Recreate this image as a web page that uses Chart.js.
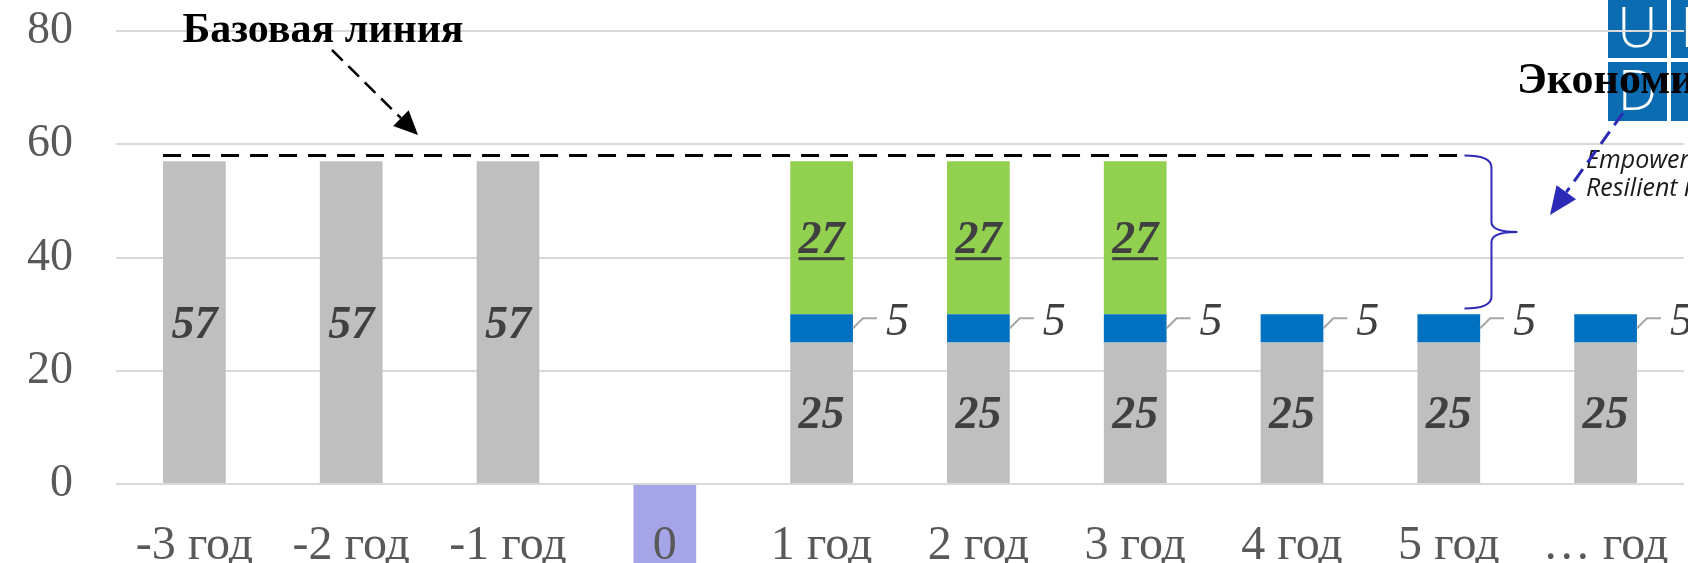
<!DOCTYPE html>
<html>
<head>
<meta charset="utf-8">
<script src="https://cdn.jsdelivr.net/npm/chart.js@4.4.1/dist/chart.umd.min.js"></script>
<style>
  html, body { margin: 0; padding: 0; background: #fff; overflow: hidden; }
  #chart { display: block; background: #fff; }
</style>
</head>
<body>
<canvas id="chart" width="1688" height="563"></canvas>
<script>
const CATEGORIES = ['-3 год', '-2 год', '-1 год', '0', '1 год', '2 год', '3 год', '4 год', '5 год', '… год'];
const BASE_VALUES = [57, 57, 57, 0, 25, 25, 25, 25, 25, 25];
const EXTRA_VALUES = [0, 0, 0, 0, 5, 5, 5, 5, 5, 5];
const SAVING_VALUES = [0, 0, 0, 0, 27, 27, 27, 0, 0, 0];
const Y_TICKS = [0, 20, 40, 60, 80];
const BASELINE_VALUE = 58;
const BRACE_BOTTOM = 31;
const HIGHLIGHT_INDEX = 3;

const SERIF = '"Liberation Serif", "Times New Roman", serif';
const SANS = '"Open Sans", "Noto Sans", sans-serif';

function arrow(ctx, x1, y1, x2, y2, color, width, dash, head, half) {
    const ang = Math.atan2(y2 - y1, x2 - x1);
    const bx = x2 - head * Math.cos(ang);
    const by = y2 - head * Math.sin(ang);
    ctx.save();
    ctx.strokeStyle = color;
    ctx.fillStyle = color;
    ctx.lineWidth = width;
    ctx.setLineDash(dash);
    ctx.beginPath();
    ctx.moveTo(x1, y1);
    ctx.lineTo(bx, by);
    ctx.stroke();
    ctx.setLineDash([]);
    ctx.beginPath();
    ctx.moveTo(x2, y2);
    ctx.lineTo(bx + half * Math.sin(ang), by - half * Math.cos(ang));
    ctx.lineTo(bx - half * Math.sin(ang), by + half * Math.cos(ang));
    ctx.closePath();
    ctx.fill();
    ctx.restore();
}

// purple box under the "0" label + logo (behind the grid)
const backdrop = {
    id: 'backdrop',
    beforeDraw(chart) {
        const { ctx, scales: { x, y } } = chart;
        const bar = chart.getDatasetMeta(0).data[HIGHLIGHT_INDEX];
        const w = bar.width;
        const cx = x.getPixelForValue(HIGHLIGHT_INDEX);
        ctx.save();
        ctx.fillStyle = '#a5a5e8';
        ctx.fillRect(cx - w / 2, y.getPixelForValue(0) + 1, w, chart.height);

        // logo squares
        ctx.fillStyle = '#0b6cb2';
        const sq = 59, gap = 4, lx = 1608, ly = -1;
        for (let r = 0; r < 2; r++) {
            for (let c = 0; c < 2; c++) {
                ctx.fillRect(lx + c * (sq + gap), ly + r * (sq + gap), sq, sq);
            }
        }
        ctx.fillStyle = '#fff';
        ctx.font = '300 56px ' + SANS;
        ctx.textAlign = 'center';
        ctx.textBaseline = 'alphabetic';
        const letters = [['U', 0, 0], ['N', 1, 0], ['D', 0, 1], ['P', 1, 1]];
        letters.forEach(([t, c, r]) => {
            ctx.fillText(t, lx + c * (sq + gap) + sq / 2, ly + r * (sq + gap) + 48);
        });
        ctx.restore();
    }
};

const labels = {
    id: 'labels',
    afterDatasetsDraw(chart) {
        const { ctx, scales: { x, y } } = chart;
        ctx.save();
        chart.data.datasets.forEach((ds, di) => {
            const meta = chart.getDatasetMeta(di);
            meta.data.forEach((bar, i) => {
                const v = ds.data[i];
                if (!v) return;
                const p = bar.getProps(['x', 'y', 'base', 'width'], true);
                const cy = (p.y + p.base) / 2;
                ctx.fillStyle = '#404040';
                ctx.textBaseline = 'alphabetic';
                if (ds.labelStyle === 'side') {
                    const rx = p.x + p.width / 2;
                    ctx.strokeStyle = '#a6a6a6';
                    ctx.lineWidth = 2;
                    ctx.beginPath();
                    ctx.moveTo(rx, cy);
                    ctx.lineTo(rx + 10, cy - 10);
                    ctx.lineTo(rx + 24, cy - 10);
                    ctx.stroke();
                    ctx.font = 'italic 46px ' + SERIF;
                    ctx.textAlign = 'left';
                    ctx.fillText(String(v), rx + 33, cy - 9 + 15.5);
                } else {
                    ctx.font = 'italic bold 46px ' + SERIF;
                    ctx.textAlign = 'center';
                    const base = cy + 15.5;
                    ctx.fillText(String(v), p.x, base);
                    if (ds.labelStyle === 'underline') {
                        const tw = ctx.measureText(String(v)).width;
                        ctx.fillRect(p.x - tw / 2, base + 4, tw, 3);
                    }
                }
            });
        });

        // dashed baseline
        const first = chart.getDatasetMeta(0).data[0];
        const x0 = first.x - first.width / 2;
        const x1 = x.getPixelForValue(8) + first.width / 4;
        const yb = y.getPixelForValue(BASELINE_VALUE);
        ctx.strokeStyle = '#000';
        ctx.lineWidth = 3;
        ctx.setLineDash([18, 11]);
        ctx.beginPath();
        ctx.moveTo(x0, yb);
        ctx.lineTo(x1, yb);
        ctx.stroke();
        ctx.setLineDash([]);

        // brace
        const yBot = y.getPixelForValue(BRACE_BOTTOM);
        const yMid = (yb + yBot) / 2;
        const vx = x1 + 27, tip = x1 + 53;
        ctx.strokeStyle = '#2b2bb8';
        ctx.lineWidth = 2;
        ctx.beginPath();
        ctx.moveTo(x1, yb);
        ctx.quadraticCurveTo(vx, yb, vx, yb + 12);
        ctx.lineTo(vx, yMid - 10);
        ctx.quadraticCurveTo(vx, yMid, tip, yMid);
        ctx.quadraticCurveTo(vx, yMid, vx, yMid + 10);
        ctx.lineTo(vx, yBot - 12);
        ctx.quadraticCurveTo(vx, yBot, x1, yBot);
        ctx.stroke();
        ctx.restore();
    },
    afterDraw(chart) {
        const { ctx } = chart;
        ctx.save();
        ctx.fillStyle = '#000';
        ctx.textBaseline = 'alphabetic';
        ctx.textAlign = 'center';
        ctx.font = 'bold 42px ' + SERIF;
        ctx.fillText('Базовая линия', 323, 42);
        arrow(ctx, 332, 50, 418, 135, '#000', 2.5, [15, 8], 24, 11);

        ctx.textAlign = 'left';
        ctx.font = 'bold 44px ' + SERIF;
        ctx.fillText('Экономия', 1517, 93);

        ctx.fillStyle = '#1a1a1a';
        ctx.font = 'italic 25px ' + SANS;
        ctx.fillText('Empowered lives.', 1586, 168);
        ctx.fillText('Resilient nations.', 1586, 196);

        arrow(ctx, 1623, 113, 1550, 215, '#2b2bb8', 3, [15, 8], 28, 12);
        ctx.restore();
    }
};

const ctx = document.getElementById('chart').getContext('2d');
const chart = new Chart(ctx, {
    type: 'bar',
    data: {
        labels: CATEGORIES,
        datasets: [
            { label: 'База', data: BASE_VALUES, backgroundColor: '#bfbfbf', labelStyle: 'center' },
            { label: 'Доп.', data: EXTRA_VALUES, backgroundColor: '#0070c0', labelStyle: 'side' },
            { label: 'Экономия', data: SAVING_VALUES, backgroundColor: '#92d050', labelStyle: 'underline' }
        ]
    },
    options: {
        responsive: false,
        devicePixelRatio: 1,
        animation: false,
        layout: { padding: { top: 31, left: 0, right: 4, bottom: 0 } },
        plugins: { legend: { display: false }, tooltip: { enabled: false } },
        datasets: { bar: { categoryPercentage: 1, barPercentage: 0.4, borderWidth: 0 } },
        scales: {
            x: {
                stacked: true,
                grid: { display: false },
                border: { display: false },
                ticks: { color: '#595959', font: { family: SERIF, size: 48 }, padding: 26, autoSkip: false, maxRotation: 0 },
                afterFit: s => { s.height = 79; s.paddingLeft = 0; s.paddingRight = 0; }
            },
            y: {
                stacked: true,
                min: 0,
                max: 80,
                afterBuildTicks: s => { s.ticks = Y_TICKS.map(v => ({ value: v })); },
                ticks: { color: '#595959', font: { family: SERIF, size: 46 }, padding: 43 },
                grid: { color: '#d9d9d9', lineWidth: 2, drawTicks: false },
                border: { display: false },
                afterFit: s => { s.width = 116; s.paddingTop = 0; s.paddingBottom = 0; }
            }
        }
    },
    plugins: [backdrop, labels]
});
</script>
</body>
</html>
